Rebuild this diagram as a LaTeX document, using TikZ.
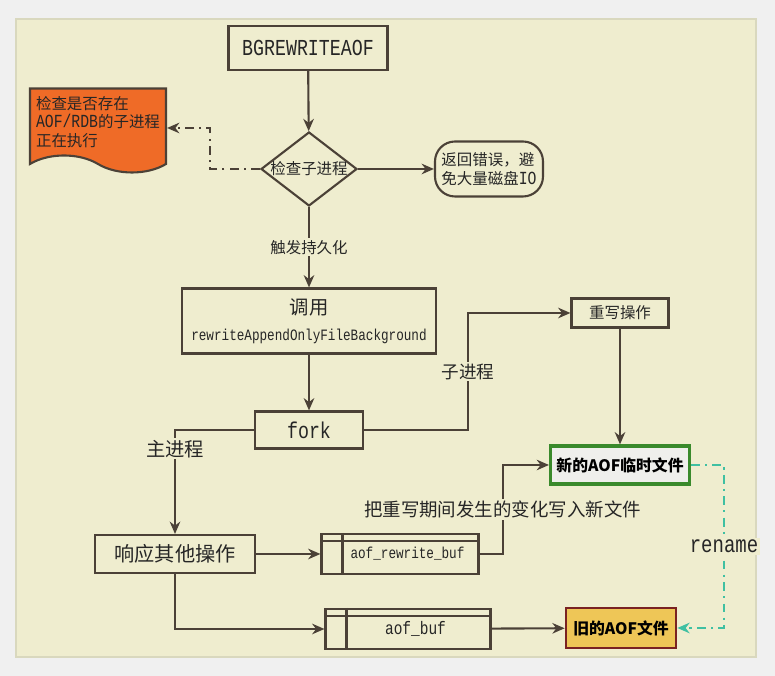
\documentclass[tikz,border=0pt]{standalone}
\usepackage{fontspec}
\setmainfont{Noto Sans CJK SC}
\setmonofont{Liberation Mono}
\newfontfamily\narrowmono[FakeStretch=0.8]{Liberation Mono}
\usetikzlibrary{arrows.meta, positioning, shapes.geometric, shapes.symbols}
\definecolor{outerbg}{HTML}{F0F0F0}
\definecolor{panelbg}{HTML}{EFEDCF}
\definecolor{panelrule}{HTML}{D9D8BE}
\definecolor{linecol}{HTML}{4B4137}
\definecolor{docorange}{HTML}{EF6B27}
\definecolor{newgreen}{HTML}{3A8A2C}
\definecolor{newfill}{HTML}{EFEFEC}
\definecolor{oldgold}{HTML}{EEC657}
\definecolor{oldred}{HTML}{7A2222}
\definecolor{renameteal}{HTML}{3FC0A2}

\begin{document}
\begin{tikzpicture}[
        >={Stealth[length=7pt,width=6pt]},
        box/.style={draw=linecol, line width=1.2pt, fill=panelbg, text=black!85, align=center, inner sep=2pt},
        cmdbox/.style={box, font=\narrowmono\fontsize{13}{15}\selectfont},
        stepbox/.style={box, font=\fontsize{8.8}{10.5}\selectfont},
        storebox/.style={box, minimum height=0.8cm, font=\narrowmono\fontsize{9}{11}\selectfont},
        filebox/.style={minimum height=0.76cm, font=\bfseries\fontsize{9}{11}\selectfont},
        conn/.style={draw=linecol, line width=1.2pt, ->},
        ddline/.style={line width=1.2pt, dash pattern=on 5pt off 3pt on 1.2pt off 3pt, ->},
        lbl/.style={fill=panelbg, inner sep=1pt, text=black!85}
    ]
    \useasboundingbox (0,0) rectangle (15.5,13.52);
    \fill[outerbg] (0,0) rectangle (15.5,13.52);
    \draw[panelrule, fill=panelbg, line width=0.8pt] (0.32,0.38) rectangle (15.12,13.14);

    \node[cmdbox, minimum width=3.18cm, minimum height=0.88cm] (bgcmd) at (6.16,12.56) {BGREWRITEAOF};
    \node[diamond, draw=linecol, line width=1.2pt, fill=panelbg, minimum width=1.92cm, minimum height=1.48cm, inner sep=0pt,
          label={[text=black!85, font=\fontsize{8.8}{10.5}\selectfont]center:检查子进程}] (check) at (6.18,10.14) {};
    \node[tape, tape bend top=none, tape bend bottom=out and in, tape bend height=0.34cm, draw=linecol, line width=1.2pt, fill=docorange,
          minimum width=2.72cm, minimum height=1.68cm, align=left, text=black!85, font=\fontsize{8.8}{10.5}\selectfont] (exist) at (1.96,11.08)
          {检查是否存在\\{\narrowmono\fontsize{10.5}{10.5}\selectfont AOF/RDB}的子进程\\正在执行};
    \node[stepbox, rounded corners=0.4cm, minimum width=2.16cm, minimum height=1.1cm, align=left] (err) at (9.78,10.14)
          {返回错误，避\\免大量磁盘{\narrowmono\fontsize{10.5}{10.5}\selectfont IO}};
    \node[box, minimum width=5.08cm, minimum height=1.3cm] (call) at (6.18,7.1)
          {{\fontsize{11}{14}\selectfont 调用}\\[3pt]{\narrowmono\fontsize{9}{11}\selectfont rewriteAppendOnlyFileBackground}};
    \node[cmdbox, minimum width=2.16cm, minimum height=0.74cm] (fork) at (6.18,4.92) {fork};
    \node[stepbox, minimum width=1.94cm, minimum height=0.58cm] (rewrite) at (12.4,7.26) {重写操作};
    \node[filebox, draw=newgreen, line width=1.8pt, fill=newfill, minimum width=2.7cm] (newaof) at (12.4,4.22) {新的AOF临时文件};
    \node[box, minimum width=3.2cm, minimum height=0.76cm, font=\fontsize{11.5}{13}\selectfont] (resp) at (3.5,2.44) {响应其他操作};
    \node[storebox, minimum width=3.14cm] (rwbuf) at (8.0,2.44) {\hspace*{0.3cm}aof\_rewrite\_buf};
    \node[storebox, minimum width=3.3cm, font=\narrowmono\fontsize{10.3}{12}\selectfont] (aofbuf) at (8.16,0.94) {\hspace*{0.3cm}aof\_buf};
    \node[filebox, draw=oldred, line width=1.5pt, fill=oldgold, minimum width=2.2cm, minimum height=0.8cm] (oldaof) at (12.42,0.96) {旧的AOF文件};

    % buffer stripes
    \foreach \b in {rwbuf, aofbuf} {
        \draw[linecol, line width=1.2pt] ([xshift=0.44cm]\b.north west) -- ([xshift=0.44cm]\b.south west);
        \draw[linecol, line width=1.2pt] ([yshift=-0.16cm]\b.north west) -- ([yshift=-0.16cm]\b.north east);
    }

    \draw[conn] (bgcmd) -- (check);
    \draw[conn] (check) -- node[lbl, font=\fontsize{8.8}{10.5}\selectfont] {触发持久化} (call);
    \draw[conn] (check) -- (err);
    \draw[ddline, draw=linecol] (check.west) -- ++(-1,0) |- ([yshift=-0.12cm]exist.east);
    \draw[conn] (call) -- (fork);
    \draw[conn] (fork.east) -- ++(2.08,0) |- node[pos=0.25, lbl, font=\fontsize{10}{12}\selectfont] {子进程} (rewrite.west);
    \draw[conn] (fork.west) -| node[pos=0.59, lbl, font=\fontsize{11}{13}\selectfont] {主进程} (resp.north);
    \draw[conn] (rewrite) -- (newaof);
    \draw[conn] (resp) -- (rwbuf);
    \draw[conn] (resp.south) |- (aofbuf.west);
    \draw[conn] (rwbuf.east) -- ++(0.46,0) |- node[pos=0.25, lbl, font=\fontsize{10.5}{12}\selectfont] {把重写期间发生的变化写入新文件} (newaof.west);
    \draw[conn] (aofbuf) -- (oldaof);
    \draw[ddline, draw=renameteal] (newaof.east) -- ++(0.66,0) |- node[pos=0.25, lbl, text=black!85, font=\narrowmono\fontsize{13.5}{15}\selectfont] {rename} (oldaof.east);
\end{tikzpicture}
\end{document}
